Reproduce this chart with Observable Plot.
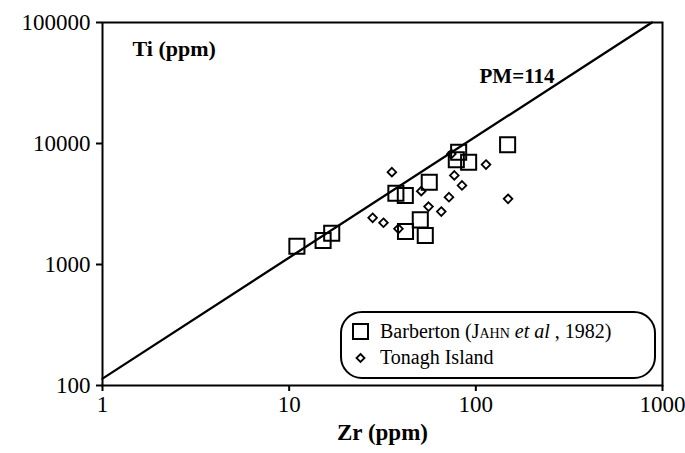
<!DOCTYPE html>
<html>
<head>
<meta charset="utf-8">
<script src="https://cdn.jsdelivr.net/npm/d3@7"></script>
<script src="https://cdn.jsdelivr.net/npm/@observablehq/plot@0.6"></script>
<style>
  html, body { margin: 0; padding: 0; background: #fff; }
  #wrap { position: relative; width: 685px; height: 453px; font-family: "Liberation Serif", "DejaVu Serif", serif; }
  #legend {
    position: absolute; left: 340px; top: 311px; width: 312px; height: 64px;
    border: 2px solid #000; border-radius: 22px; box-sizing: content-box;
    font-size: 20px; color: #000; background: #fff;
  }
  .row { position: absolute; left: 8px; display: flex; align-items: center; white-space: nowrap; }
  .sc { font-variant: small-caps; }
</style>
</head>
<body>
<div id="wrap"></div>
<script>
// Barberton (Jahn et al, 1982)
const barbertonZr = [11.0, 15.2, 16.9, 37.3, 41.9, 56.3, 80.9, 78.6, 91.5, 148, 50.4, 42.0, 53.6];
const barbertonTi = [1416, 1579, 1814, 3884, 3715, 4786, 8475, 7328, 7000, 9750, 2339, 1875, 1738];
// Tonagh Island
const tonaghZr = [35.5, 51.0, 76.7, 84.3, 113.4, 71.8, 55.8, 65.3, 148.8, 28.0, 32.0, 38.5, 73.9];
const tonaghTi = [5800, 4040, 5450, 4500, 6700, 3600, 3010, 2740, 3490, 2433, 2213, 1972, 8190];
// Primitive mantle ratio Ti/Zr
const pmRatio = 114;
const xTicks = [1, 10, 100, 1000];
const yTicks = [100, 1000, 10000, 100000];
const xDomain = [1, 1000];
const yDomain = [100, 100000];

const barberton = barbertonZr.map((z, i) => ({zr: z, ti: barbertonTi[i]}));
const tonagh = tonaghZr.map((z, i) => ({zr: z, ti: tonaghTi[i]}));
const pmLine = [{zr: xDomain[0], ti: pmRatio * xDomain[0]}, {zr: yDomain[1] / pmRatio, ti: yDomain[1]}];

const fmt = d => String(d);

const chart = Plot.plot({
  width: 685,
  height: 453,
  marginLeft: 102,
  marginRight: 23,
  marginTop: 22,
  marginBottom: 68,
  style: {fontFamily: "Liberation Serif, serif", fontSize: "23px", color: "#000", background: "#fff"},
  x: {type: "log", domain: xDomain},
  y: {type: "log", domain: yDomain},
  marks: [
    Plot.frame({stroke: "#000", strokeWidth: 2}),
    Plot.axisY({ticks: yTicks, tickFormat: fmt, tickSize: 6, tickPadding: 6, strokeWidth: 2, label: null}),
    Plot.axisX({ticks: xTicks, tickFormat: fmt, tickSize: 6, tickPadding: 4, strokeWidth: 2, label: null}),
    Plot.line(pmLine, {x: "zr", y: "ti", stroke: "#000", strokeWidth: 2.3}),
    Plot.dot(barberton, {x: "zr", y: "ti", symbol: "square", r: 8.5, stroke: "#000", strokeWidth: 2, fill: "none"}),
    Plot.dot(tonagh, {x: "zr", y: "ti", symbol: "diamond2", r: 3.9, stroke: "#000", strokeWidth: 1.8, fill: "none"}),
    Plot.text(["Ti (ppm)"], {frameAnchor: "top-left", dx: 30, dy: 18, textAnchor: "start", fontWeight: "bold", fontSize: 22}),
    Plot.text(["PM=114"], {frameAnchor: "top-right", dx: -108, dy: 46, textAnchor: "end", fontWeight: "bold", fontSize: 21}),
    Plot.text(["Zr (ppm)"], {frameAnchor: "bottom", dy: 54, fontWeight: "bold", fontSize: 23})
  ]
});
const wrap = document.getElementById("wrap");
wrap.appendChild(chart);

const legend = document.createElement("div");
legend.id = "legend";
legend.innerHTML = `
  <div class="row" style="top:7px">
    <svg width="22" height="20" style="margin-right:8px"><rect x="3" y="2" width="15" height="15" fill="none" stroke="#000" stroke-width="2"/></svg>
    <span>Barberton (J<span class="sc">ahn</span> <i>et al</i> , 1982)</span>
  </div>
  <div class="row" style="top:33px">
    <svg width="22" height="20" style="margin-right:8px"><path d="M10.5,6 L14.5,10 L10.5,14 L6.5,10 Z" fill="none" stroke="#000" stroke-width="1.8"/></svg>
    <span>Tonagh Island</span>
  </div>`;
wrap.appendChild(legend);
</script>
</body>
</html>
